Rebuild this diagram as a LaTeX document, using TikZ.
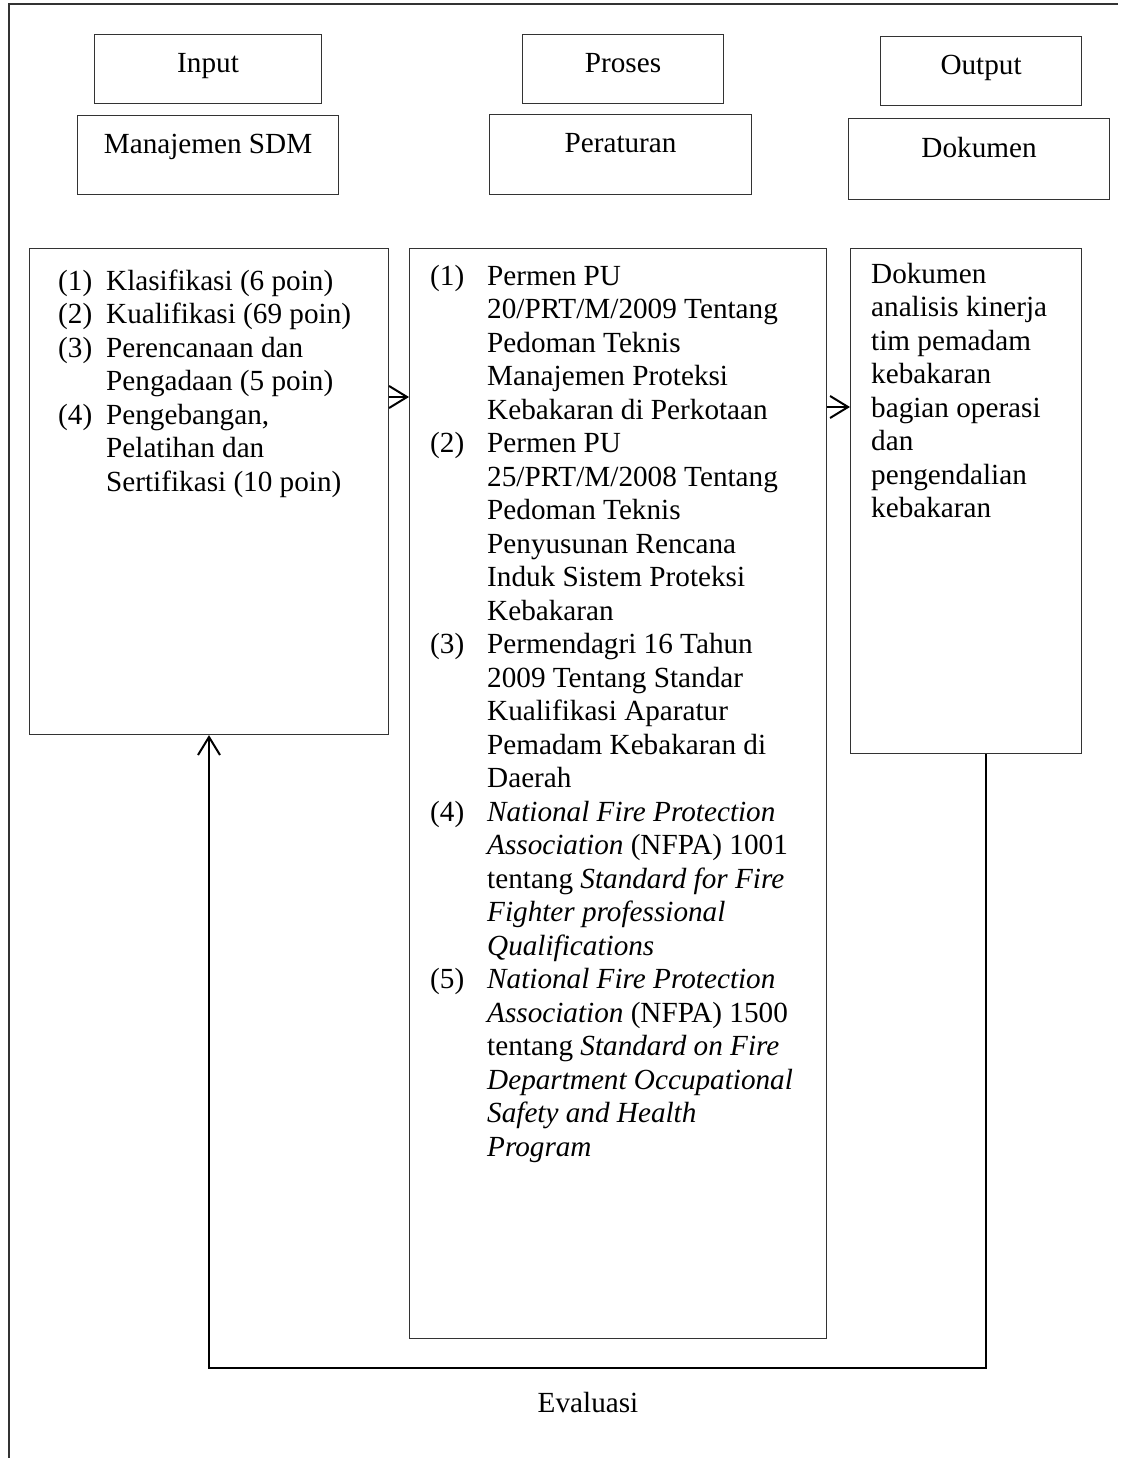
\documentclass[tikz,border=0pt]{standalone}
\usepackage{fontspec}
\setmainfont{Liberation Serif}
\usetikzlibrary{arrows.meta}

\begin{document}
\begin{tikzpicture}[x=1pt, y=-1pt,
  font=\fontsize{29.2}{33.5}\selectfont,
  box/.style={draw=black!80, line width=1.1pt, inner sep=0pt, anchor=north west},
  hdr/.style={box, text height=38pt},
  txt/.style={inner sep=0pt, anchor=base west},
  arr/.style={line width=2pt, -{Straight Barb[length=18pt,width=22pt]}}]
  \useasboundingbox (0,0) rectangle (1120,1458);
  \draw[line width=1.2pt, black!80] (1118,4) -- (9,4) -- (9,1458);
  % header boxes
  \node[hdr, minimum width=227pt, minimum height=69pt, text depth=31pt] (inp) at (94,34) {Input};
  \node[hdr, minimum width=261pt, minimum height=79pt, text depth=41pt] (sdm) at (77,115) {Manajemen SDM};
  \node[hdr, minimum width=201pt, minimum height=69pt, text depth=31pt] (pro) at (522,34) {Proses};
  \node[hdr, minimum width=262pt, minimum height=80pt, text depth=42pt] (atr) at (489,114) {Peraturan};
  \node[hdr, minimum width=201pt, minimum height=69pt, text depth=31pt] (out) at (880,36) {Output};
  \node[hdr, minimum width=261pt, minimum height=81pt, text depth=42pt] (dok) at (848,118) {Dokumen};
  % content boxes
  \node[box, minimum width=359pt, minimum height=486pt] (lbox) at (29,248) {};
  \node[box, minimum width=417pt, minimum height=1090pt] (mbox) at (409,248) {};
  \node[box, minimum width=231pt, minimum height=505pt] (rbox) at (850,248) {};
  \node[txt] (ltxt) at (58,290) {\begin{tabular}[t]{@{}p{48pt}@{}l@{}}
    (1) & Klasifikasi (6 poin)\\
    (2) & Kualifikasi (69 poin)\\
    (3) & Perencanaan dan\\
        & Pengadaan (5 poin)\\
    (4) & Pengebangan,\\
        & Pelatihan dan\\
        & Sertifikasi (10 poin)
  \end{tabular}};
  \node[txt] (mtxt) at (430,285) {\begin{tabular}[t]{@{}p{57pt}@{}l@{}}
    (1) & Permen PU\\
        & 20/PRT/M/2009 Tentang\\
        & Pedoman Teknis\\
        & Manajemen Proteksi\\
        & Kebakaran di Perkotaan\\
    (2) & Permen PU\\
        & 25/PRT/M/2008 Tentang\\
        & Pedoman Teknis\\
        & Penyusunan Rencana\\
        & Induk Sistem Proteksi\\
        & Kebakaran\\
    (3) & Permendagri 16 Tahun\\
        & 2009 Tentang Standar\\
        & Kualifikasi Aparatur\\
        & Pemadam Kebakaran di\\
        & Daerah\\
    (4) & \textit{National Fire Protection}\\
        & \textit{Association} (NFPA) 1001\\
        & tentang \textit{Standard for Fire}\\
        & \textit{Fighter professional}\\
        & \textit{Qualifications}\\
    (5) & \textit{National Fire Protection}\\
        & \textit{Association} (NFPA) 1500\\
        & tentang \textit{Standard on Fire}\\
        & \textit{Department Occupational}\\
        & \textit{Safety and Health}\\
        & \textit{Program}
  \end{tabular}};
  \node[txt] (rtxt) at (871,283) {\begin{tabular}[t]{@{}l@{}}
    Dokumen\\ analisis kinerja\\ tim pemadam\\ kebakaran\\
    bagian operasi\\ dan\\ pengendalian\\ kebakaran
  \end{tabular}};
  % connectors
  \coordinate (lvA) at (0,397);
  \coordinate (lvB) at (0,407);
  \draw[arr] (lbox.east |- lvA) -- (mbox.west |- lvA);
  \draw[arr] (mbox.east |- lvB) -- (rbox.west |- lvB);
  \coordinate (fbR) at (986,1368);
  \coordinate (fbL) at (209,1368);
  \draw[arr] (rbox.south -| fbR) -- (fbR) -- (fbL) -- (lbox.south -| fbL);
  \node[anchor=base] (eval) at (588,1412) {Evaluasi};
\end{tikzpicture}
\end{document}
